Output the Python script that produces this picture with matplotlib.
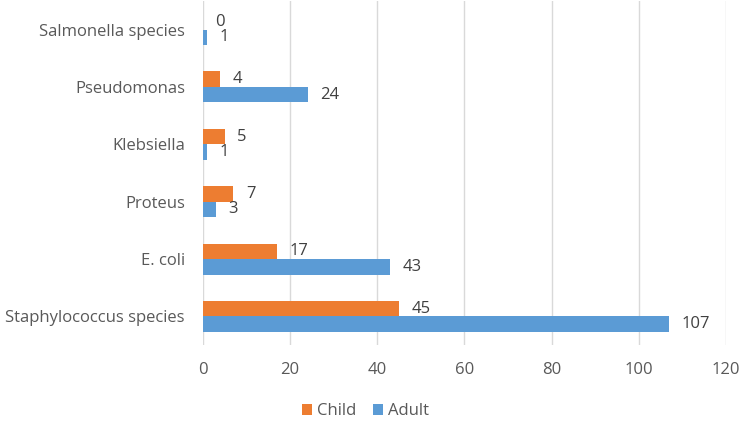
import numpy as np
import matplotlib.pyplot as plt

# data (bottom to top)
categories = ['Staphylococcus species', 'E. coli', 'Proteus', 'Klebsiella',
              'Pseudomonas', 'Salmonella species']
child = [45, 17, 7, 5, 4, 0]
adult = [107, 43, 3, 1, 24, 1]

plt.rcParams['font.family'] = ['Open Sans', 'DejaVu Sans']
grey = '#595959'

fig = plt.figure(figsize=(7.49, 4.24), dpi=100)
ax = fig.add_axes([0.271, 0.186, 0.698, 0.812])

y = np.arange(len(categories))
h = 0.27
b_child = ax.barh(y + h / 2, child, height=h, color='#ED7D31', label='Child')
b_adult = ax.barh(y - h / 2, adult, height=h, color='#5B9BD5', label='Adult')

ax.bar_label(b_child, padding=9, fontsize=12, color='#404040')
ax.bar_label(b_adult, padding=9, fontsize=12, color='#404040')

ax.set_xlim(0, 120)
ax.set_ylim(-0.5, len(categories) - 0.5)
ax.set_xticks(range(0, 121, 20))
ax.set_yticks(y)
ax.set_yticklabels(categories)

# Remove axes splines and ticks
for s in ['top', 'bottom', 'left', 'right']:
    ax.spines[s].set_visible(False)
ax.tick_params(length=0, labelsize=12, colors=grey)
ax.xaxis.set_tick_params(pad=12)
ax.yaxis.set_tick_params(pad=13)

ax.grid(axis='x', color='#D9D9D9', linewidth=1)
ax.set_axisbelow(True)

ax.legend(loc='upper center', bbox_to_anchor=(0.31, -0.125), ncol=2,
          frameon=False, fontsize=12, handlelength=0.6, handleheight=0.6,
          columnspacing=1.0, handletextpad=0.3, labelcolor=grey)

plt.savefig('out.png', dpi=100)
